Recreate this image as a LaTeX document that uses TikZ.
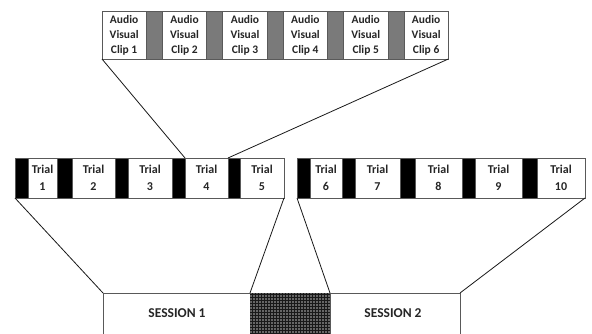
\documentclass[tikz,border=0pt]{standalone}
\usepackage{fontspec}
\setmainfont{Carlito}
\usetikzlibrary{patterns}
\begin{document}
\begin{tikzpicture}[x=1pt,y=-1pt,
  cellbase/.style={draw=black!65, line width=0.7pt, inner sep=0pt, outer sep=0pt, anchor=north west, align=center, text=black!85},
  clipcell/.style={cellbase, fill=white, minimum height=48pt, font=\bfseries\fontsize{11.5}{15}\selectfont},
  gapcell/.style={cellbase, fill=black!52, minimum height=48pt},
  trialcell/.style={cellbase, fill=white, minimum height=40pt, font=\bfseries\fontsize{12}{17}\selectfont},
  barcell/.style={cellbase, fill=black, minimum height=40pt},
  sesscell/.style={cellbase, fill=white, minimum height=52pt},
  sesstext/.style={font=\bfseries\fontsize{13.5}{15}\selectfont, text=black!85, inner sep=0pt},
  link/.style={draw=black!90, line width=0.8pt}]
\clip (0,0) rectangle (592,333);
\fill[white] (0,0) rectangle (592,333);

% top strip of clips
\foreach \i in {1,...,6}{
  \pgfmathsetmacro\xa{102+(\i-1)*60.4}
  \node[clipcell, minimum width=44.3pt] (c\i) at (\xa,11) {Audio\\Visual\\Clip \i};
}
\foreach \i in {1,...,5}{
  \pgfmathsetmacro\xa{102+44.3+(\i-1)*60.4}
  \node[gapcell, minimum width=16pt] (g\i) at (\xa,11) {};
}

% trial rows
\foreach \n/\xa/\xb in {1/15/28, 2/57/72, 3/115/128, 4/172/185, 5/228/240,
                         6/297/310, 7/342/355, 8/400/415, 9/462/475, 10/522/537}{
  \pgfmathsetmacro\w{\xb-\xa}
  \node[barcell, minimum width=\w pt] (b\n) at (\xa,158) {};
}
\foreach \n/\xa/\xb in {1/28/57, 2/72/115, 3/128/172, 4/185/228, 5/240/284,
                         6/310/342, 7/355/400, 8/415/462, 9/475/522, 10/537/585}{
  \pgfmathsetmacro\w{\xb-\xa}
  \node[trialcell, minimum width=\w pt] (t\n) at (\xa,158) {Trial\\\n};
}

% sessions
\node[sesscell, minimum width=147pt] (s1) at (103,293) {};
\node[cellbase, minimum width=80pt, minimum height=52pt, fill=black!60,
      postaction={pattern=grid, pattern color=black!90}] (mid) at (250,293) {};
\node[sesscell, minimum width=130pt] (s2) at (330,293) {};
\node[sesstext] (s1t) at (177,313) {SESSION 1};
\node[sesstext] (s2t) at (393,313) {SESSION 2};

% connectors
\draw[link] (c1.south west) -- (b4.north east);
\draw[link] (c6.south east) -- (b5.north west);
\draw[link] (b1.south west) -- (s1.north west);
\draw[link] (t5.south east) -- (mid.north west);
\draw[link] (b6.south west) -- (mid.north east);
\draw[link] (t10.south east) -- (s2.north east);
\end{tikzpicture}
\end{document}
